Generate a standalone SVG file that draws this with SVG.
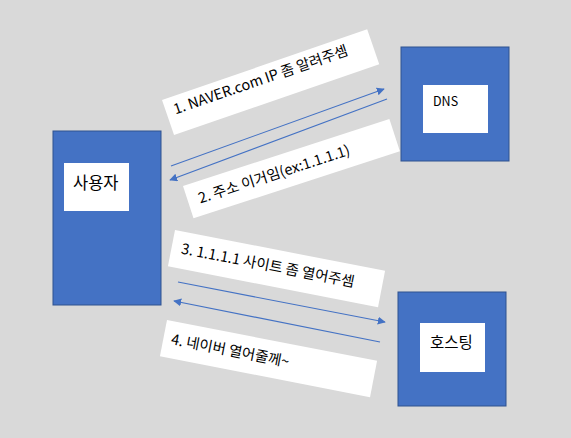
<svg xmlns="http://www.w3.org/2000/svg" width="571" height="438" viewBox="0 0 571 438">
<defs>
<style>
.node{fill:#4472C4;stroke:#2F528F;stroke-width:1}
.inner{fill:#FFFFFF}
.label{fill:#FFFFFF}
.t{font-family:"Noto Sans CJK KR","Noto Sans",sans-serif;fill:#000000}
.lt{font-size:14.5px}
.conn{stroke:#4472C4;stroke-width:1.1;fill:none}
</style>
<marker id="ah" viewBox="0 0 10 10" refX="9" refY="5" markerWidth="8" markerHeight="8" markerUnits="userSpaceOnUse" orient="auto">
<path d="M0,0 L10,5 L0,10 z" fill="#4472C4"/>
</marker>
</defs>
<rect x="0" y="0" width="571" height="438" fill="#D9D9D9"/>
<g id="user">
<rect class="node" x="53" y="131" width="108" height="174"/>
<rect class="inner" x="64" y="163" width="65" height="48"/>
<text class="t" x="73" y="189" font-size="16.5">사용자</text>
</g>
<g id="dns">
<rect class="node" x="401" y="47" width="108" height="114"/>
<rect class="inner" x="423" y="85" width="65" height="48"/>
<text class="t" x="433" y="106" font-size="12.5">DNS</text>
</g>
<g id="hosting">
<rect class="node" x="398" y="292" width="108" height="114"/>
<rect class="inner" x="420" y="323" width="65" height="49"/>
<text class="t" x="430" y="348" font-size="15.5">호스팅</text>
</g>
<g id="label1" transform="rotate(-19 162 100)">
<rect class="label" x="162" y="100" width="217" height="37"/>
<text class="t lt" x="170" y="118">1. NAVER.com IP 좀 알려주셈</text>
</g>
<g id="label2" transform="rotate(-18 183 186)">
<rect class="label" x="183" y="186" width="217" height="34"/>
<text class="t lt" x="194" y="208">2. 주소 이거임(ex:1.1.1.1)</text>
</g>
<g id="label3" transform="rotate(11 175 230)">
<rect class="label" x="175" y="230" width="214" height="37"/>
<text class="t lt" x="185" y="252">3. 1.1.1.1 사이트 좀 열어주셈</text>
</g>
<g id="label4" transform="rotate(11 167 320)">
<rect class="label" x="167" y="320" width="214" height="37"/>
<text class="t lt" x="175" y="343">4. 네이버 열어줄께~</text>
</g>
<g id="connectors">
<line class="conn" x1="171" y1="166" x2="384" y2="89" marker-end="url(#ah)"/>
<line class="conn" x1="387" y1="99" x2="170" y2="180" marker-end="url(#ah)"/>
<line class="conn" x1="178" y1="282" x2="385" y2="322" marker-end="url(#ah)"/>
<line class="conn" x1="380" y1="342" x2="174" y2="301" marker-end="url(#ah)"/>
</g>
</svg>
